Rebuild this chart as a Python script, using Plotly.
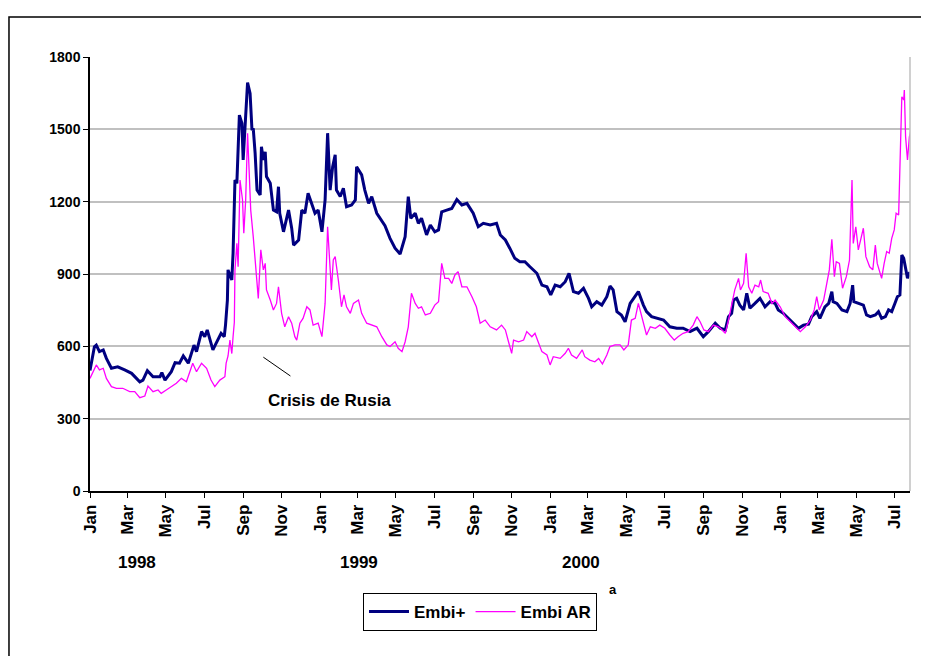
import pandas as pd
import plotly.graph_objects as go

START = "1998-01-01"

# Embi+ : days since 1 Jan 1998, spread (basis points)
embi_plus_days = [0, 7, 10, 15, 21, 26, 34, 44, 55, 66, 79, 84, 91, 100, 111, 114, 119, 129, 135, 142,
                  148, 156, 165, 169, 177, 182, 186, 195, 200, 208, 213, 215, 218, 219, 225, 227, 230, 233,
                  237, 241, 243, 246, 250, 254, 257, 259, 262, 265, 270, 272, 275, 278, 280, 286, 291, 296,
                  299, 301, 307, 315, 320, 323, 331, 336, 341, 346, 352, 357, 362, 368, 373, 377, 381, 385,
                  389, 391, 397, 402, 407, 415, 421, 423, 431, 436, 442, 447, 455, 460, 468, 476, 484, 492,
                  500, 505, 509, 516, 521, 526, 534, 540, 547, 553, 558, 566, 574, 582, 590, 598, 608, 616,
                  624, 635, 645, 651, 659, 666, 674, 682, 690, 698, 709, 717, 725, 731, 738, 746, 754, 760,
                  767, 775, 783, 791, 796, 804, 812, 820, 825, 830, 836, 843, 849, 857, 865, 870, 878, 883,
                  891, 899, 910, 920, 931, 941, 952, 963, 973, 981, 992, 1000, 1008, 1013, 1018, 1021, 1026,
                  1031, 1037, 1042, 1047, 1055, 1063, 1071, 1079, 1087, 1092, 1100, 1108, 1116, 1124, 1132,
                  1140, 1145, 1153, 1158, 1166, 1172, 1177, 1179, 1185, 1193, 1201, 1206, 1210, 1212, 1219,
                  1227, 1232, 1238, 1246, 1251, 1256, 1262, 1267, 1272, 1277, 1281, 1285, 1288, 1291, 1294,
                  1297, 1300, 1302]
embi_plus_vals = [500, 598, 605, 578, 585, 550, 509, 515, 502, 488, 453, 460, 499, 474, 474, 491, 460, 495, 532, 530,
                  560, 530, 605, 578, 661, 640, 668, 585, 612, 654, 640, 688, 792, 917, 875, 986, 1290, 1276,
                  1559, 1525, 1373, 1497, 1694, 1649, 1497, 1504, 1400, 1248, 1228, 1428, 1373, 1407, 1304, 1276, 1165, 1158,
                  1262, 1152, 1075, 1165, 1090, 1020, 1041, 1165, 1152, 1235, 1193, 1152, 1165, 1075, 1207, 1484, 1248, 1345,
                  1394, 1248, 1221, 1256, 1179, 1186, 1207, 1345, 1311, 1248, 1193, 1221, 1152, 1131, 1100, 1048, 1007, 983,
                  1055, 1221, 1131, 1152, 1110, 1131, 1062, 1103, 1075, 1083, 1158, 1165, 1172, 1209, 1186, 1193, 1152, 1096,
                  1110, 1103, 1110, 1062, 1041, 1007, 965, 951, 951, 930, 903, 854, 847, 813, 854, 847, 868, 903,
                  827, 820, 841, 799, 764, 785, 771, 806, 850, 834, 744, 730, 702, 778, 806, 827, 771, 744,
                  723, 716, 709, 681, 675, 675, 661, 675, 640, 661, 696, 675, 668, 723, 737, 792, 799,
                  771, 751, 820, 758, 778, 799, 764, 785, 778, 751, 737, 716, 696, 675, 688,
                  692, 723, 744, 716, 764, 778, 827, 785, 778, 751, 744, 778, 854, 785, 778,
                  771, 730, 723, 730, 744, 716, 723, 751, 744, 778, 806, 813, 979, 965, 917,
                  882, 903, 903]

# Embi AR : days since 1 Jan 1998, spread (basis points)
embi_ar_days = [0, 7, 10, 15, 21, 26, 34, 42, 52, 63, 71, 79, 87, 92, 100, 108, 113, 121, 129, 137,
                145, 153, 163, 169, 177, 185, 192, 198, 206, 214, 216, 219, 222, 225, 227, 229, 230, 233,
                235, 238, 242, 244, 247, 250, 252, 255, 259, 265, 267, 271, 275, 278, 280, 286, 291, 296,
                299, 304, 309, 315, 320, 325, 328, 333, 338, 344, 349, 354, 362, 368, 373, 377, 381, 383,
                386, 389, 394, 399, 403, 407, 413, 418, 426, 431, 439, 447, 455, 463, 471, 476, 484, 489,
                495, 500, 505, 510, 516, 521, 526, 532, 540, 547, 553, 558, 563, 569, 574, 579, 584, 590,
                598, 606, 613, 619, 627, 635, 645, 653, 659, 664, 669, 672, 680, 688, 693, 701, 706, 711,
                717, 725, 730, 735, 743, 746, 754, 759, 764, 772, 781, 785, 793, 801, 807, 813, 820, 825,
                833, 841, 847, 854, 859, 865, 870, 875, 883, 889, 897, 904, 912, 920, 927, 933, 941, 949,
                957, 963, 968, 974, 981, 989, 997, 1000, 1008, 1013, 1018, 1023, 1029, 1032, 1037, 1041,
                1045, 1050, 1055, 1061, 1064, 1068, 1076, 1082, 1087, 1095, 1103, 1111, 1119, 1127, 1135,
                1143, 1149, 1153, 1157, 1164, 1169, 1173, 1177, 1181, 1184, 1189, 1194, 1200, 1205, 1209,
                1211, 1215, 1219, 1223, 1227, 1231, 1237, 1242, 1246, 1249, 1254, 1256, 1260, 1264, 1268,
                1272, 1276, 1279, 1283, 1285, 1288, 1291, 1292, 1294, 1297, 1300, 1302]
embi_ar_vals = [467, 509, 523, 502, 509, 467, 433, 426, 426, 412, 412, 387, 394, 435, 412, 419, 405, 419, 435, 447,
                467, 453, 530, 495, 530, 509, 460, 433, 460, 474, 530, 560, 626, 570, 640, 700, 917, 1027,
                930, 1290, 1207, 1069, 1207, 1484, 1359, 1165, 1055, 834, 799, 1000, 917, 944, 834, 792, 751, 778,
                847, 737, 681, 723, 696, 640, 626, 696, 716, 764, 751, 688, 696, 640, 778, 1096, 889, 834,
                958, 972, 875, 764, 813, 764, 737, 778, 792, 737, 696, 688, 681, 640, 606, 599, 619, 592,
                578, 619, 681, 820, 778, 758, 764, 730, 737, 771, 785, 944, 882, 882, 861, 896, 910, 847,
                847, 806, 764, 696, 709, 681, 668, 688, 668, 619, 571, 626, 619, 626, 661, 640, 654, 619,
                578, 564, 523, 557, 550, 550, 571, 592, 564, 550, 585, 557, 543, 536, 550, 527, 564, 599,
                606, 606, 585, 606, 709, 716, 778, 730, 647, 681, 675, 688, 675, 647, 626, 640, 654, 661,
                688, 723, 702, 668, 661, 688, 681, 675, 654, 709, 778, 834, 882, 834, 861, 986,
                847, 820, 854, 847, 875, 827, 820, 778, 792, 764, 723, 702, 681, 661, 681,
                709, 751, 806, 751, 792, 861, 917, 1044, 889, 951, 944, 841, 889, 958, 1290,
                1027, 1096, 1000, 1048, 1090, 972, 930, 917, 1020, 944, 903, 882, 944, 993, 986,
                1048, 1083, 1152, 1145, 1331, 1635, 1622, 1663, 1469, 1373, 1469, 1490]

month_ticks = ["1998-01-01", "1998-03-01", "1998-05-01", "1998-07-01", "1998-09-01", "1998-11-01",
               "1999-01-01", "1999-03-01", "1999-05-01", "1999-07-01", "1999-09-01", "1999-11-01",
               "2000-01-01", "2000-03-01", "2000-05-01", "2000-07-01", "2000-09-01", "2000-11-01",
               "2001-01-01", "2001-03-01", "2001-05-01", "2001-07-01"]
month_labels = ["Jan", "Mar", "May", "Jul", "Sep", "Nov"] * 3 + ["Jan", "Mar", "May", "Jul"]
year_labels = ["1998", "1999", "2000"]
year_label_dates = ["1998-03-16", "1999-03-03", "2000-02-19"]

start = pd.Timestamp(START)
x_plus = start + pd.to_timedelta(embi_plus_days, unit="D")
x_ar = start + pd.to_timedelta(embi_ar_days, unit="D")

FONT = "Arial, Liberation Sans, sans-serif"

fig = go.Figure()
fig.add_trace(go.Scatter(x=x_plus, y=embi_plus_vals, mode="lines", name="Embi+",
                         line=dict(color="#000080", width=3)))
fig.add_trace(go.Scatter(x=x_ar, y=embi_ar_vals, mode="lines", name="Embi AR",
                         line=dict(color="#FF00FF", width=1.3)))

def day(d):
    return (start + pd.Timedelta(days=d)).strftime("%Y-%m-%d")

annotations = [
    dict(x=day(280), y=377, xref="x", yref="y", text="Crisis de Rusia", showarrow=False,
         xanchor="left", yanchor="middle", font=dict(family=FONT, size=17, color="black", weight="bold")),
    dict(x=0.638, y=-0.228, xref="paper", yref="paper", text="a", showarrow=False,
         xanchor="center", yanchor="middle", font=dict(family=FONT, size=13, color="black", weight="bold")),
]
for lbl, d in zip(year_labels, year_label_dates):
    annotations.append(dict(x=d, y=-0.1636, xref="x", yref="paper", text=lbl, showarrow=False,
                            xanchor="center", yanchor="middle",
                            font=dict(family=FONT, size=17, color="black", weight="bold")))

shapes = [
    dict(type="line", xref="x", yref="y", x0=day(275), y0=555, x1=day(318.5), y1=477,
         line=dict(color="black", width=1)),
    dict(type="line", xref="paper", yref="paper", x0=1, y0=0, x1=1, y1=1,
         line=dict(color="#c0c0c0", width=1.5)),
    dict(type="rect", xref="paper", yref="paper", x0=-0.0988, y0=-0.6, x1=1.2, y1=1.092,
         line=dict(color="black", width=1.5), layer="below"),
]

fig.update_layout(
    width=921, height=648,
    margin=dict(l=82, r=19, t=49, b=165),
    paper_bgcolor="white", plot_bgcolor="white",
    font=dict(family=FONT, color="black"),
    showlegend=True,
    legend=dict(orientation="h", x=0.4756, y=-0.235, xanchor="center", yanchor="top",
                bordercolor="black", borderwidth=1, bgcolor="white",
                font=dict(family=FONT, size=17, color="black", weight="bold"),
                itemwidth=40, tracegroupgap=0),
    annotations=annotations,
    shapes=shapes,
    xaxis=dict(type="date", range=["1998-01-01", day(1301)],
               tickmode="array", tickvals=month_ticks, ticktext=month_labels,
               tickangle=-90, ticks="outside", ticklen=5, tickcolor="black",
               showline=True, linecolor="black", linewidth=1.5,
               showgrid=False, zeroline=False,
               tickfont=dict(family=FONT, size=17, color="black", weight="bold")),
    yaxis=dict(range=[0, 1800], tickmode="linear", tick0=0, dtick=300,
               ticks="outside", ticklen=5, tickcolor="black",
               showline=True, linecolor="black", linewidth=1.5,
               showgrid=True, gridcolor="#c0c0c0", gridwidth=1.5, zeroline=False,
               tickfont=dict(family=FONT, size=14, color="black", weight="bold")),
)

fig.write_html("out.html")
